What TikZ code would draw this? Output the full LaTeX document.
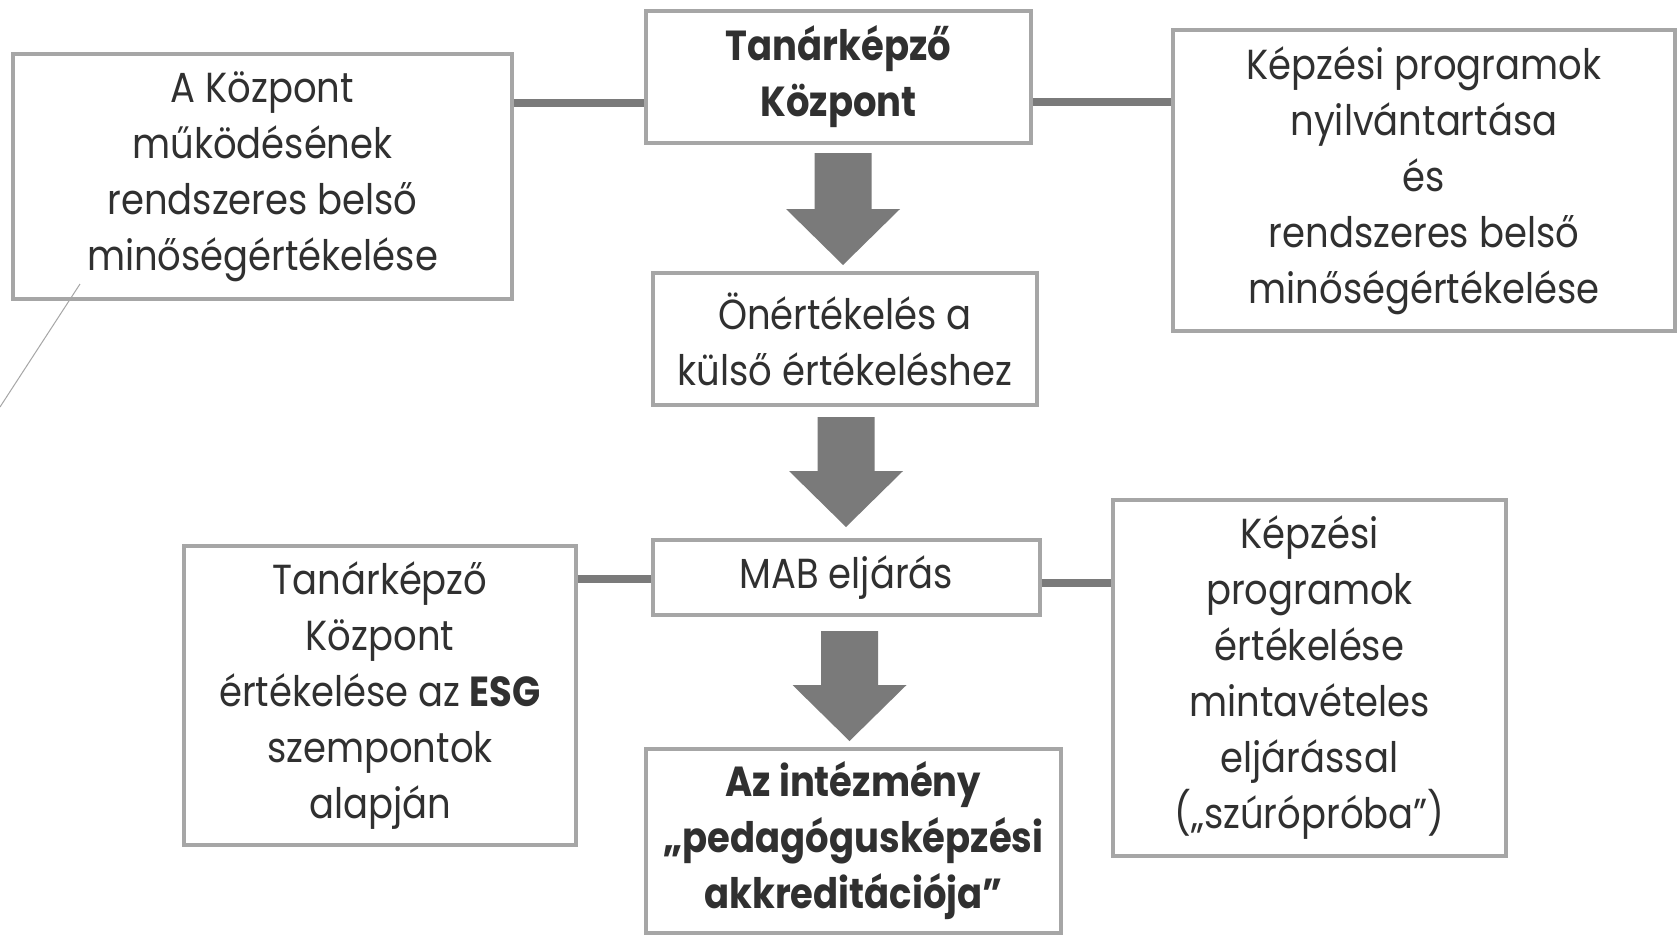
\documentclass[tikz,border=0pt]{standalone}
\usepackage{fontspec}
\setmainfont{Poppins}[FakeStretch=0.88]
\usetikzlibrary{calc}
\definecolor{boxgray}{HTML}{A6A6A6}
\definecolor{arrgray}{HTML}{7A7A7A}
\definecolor{txt}{HTML}{303030}
\tikzset{
  box/.style={draw=boxgray, line width=3.5pt, fill=white, align=center, inner sep=0pt,
    text=txt, font=\fontsize{42}{56}\selectfont},
  conn/.style={draw=arrgray, line width=7.5pt},
  blockarr/.style={fill=arrgray, draw=none},
  thinline/.style={draw=boxgray, line width=1pt}
}
\newcommand{\downblock}[4]{% x, ytop, yhead, ytip
  \fill[blockarr] (#1-28.5,#2) -- (#1+28.5,#2) -- (#1+28.5,#3) -- (#1+57,#3) -- (#1,#4) -- (#1-57,#3) -- (#1-28.5,#3) -- cycle;}
\begin{document}
\begin{tikzpicture}[x=1pt,y=-1pt]
\useasboundingbox (0,0) rectangle (1678,935);
\fill[white] (0,0) rectangle (1678,935);
% nodes
\node[box, minimum width=499pt, minimum height=245pt] (A) at (262.5,176.5)
  {A Központ\\működésének\\rendszeres belső\\minőségértékelése};
\node[box, minimum width=385pt, minimum height=132pt, font=\fontsize{42}{56}\selectfont\bfseries] (T) at (838.5,77)
  {Tanárképző\\Központ};
\node[box, minimum width=502pt, minimum height=301pt] (K) at (1424,180.5)
  {Képzési programok\\nyilvántartása\\és\\rendszeres belső\\minőségértékelése};
\node[box, minimum width=384pt, minimum height=132pt] (O) at (845,339)
  {Önértékelés a\\külső értékeléshez};
\node[box, minimum width=387pt, minimum height=75pt] (M) at (846.5,577.5)
  {MAB eljárás};
\node[box, minimum width=392pt, minimum height=299pt] (L) at (380,695.5)
  {Tanárképző\\Központ\\értékelése az \textbf{ESG}\\szempontok\\alapján};
\node[box, minimum width=393pt, minimum height=356pt] (R) at (1309.5,678)
  {Képzési\\programok\\értékelése\\mintavételes\\eljárással\\(„szúrópróba”)};
\node[box, minimum width=415pt, minimum height=184pt, font=\fontsize{42}{56}\selectfont\bfseries] (Z) at (853.5,841)
  {Az intézmény\\„pedagógusképzési\\akkreditációja”};
% connectors
\draw[conn] (A.east |- 0,103) -- (T.west |- 0,103);
\draw[conn] (T.east |- 0,102) -- (K.west |- 0,102);
\draw[conn] (L.east |- 0,579) -- (M.west |- 0,579);
\draw[conn] (M.east |- 0,583) -- (R.west |- 0,583);
% block arrows
\downblock{843}{153}{209}{265}
\downblock{846}{417}{471}{527}
\downblock{849.5}{631}{685}{741}
% thin line
\coordinate (t1) at (80,284);
\coordinate (t2) at (0,407);
\draw[thinline] (t1) -- (t2);
\end{tikzpicture}
\end{document}
